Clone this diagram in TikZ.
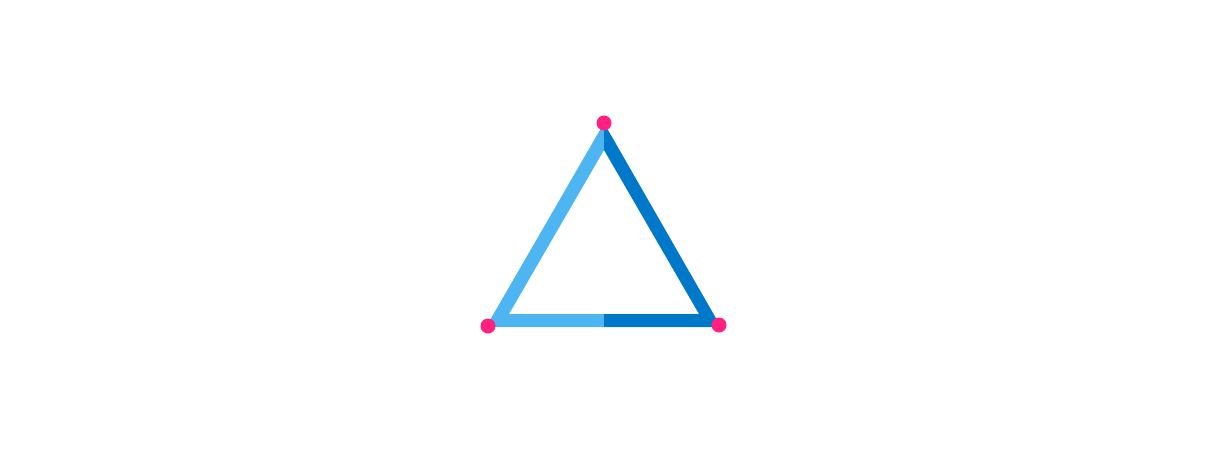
\documentclass[tikz,border=0pt]{standalone}
\begin{document}
\begin{tikzpicture}[x=0.02cm, y=-0.02cm,
  vertex/.style={circle, fill=dotpink, inner sep=0pt, minimum size=0.3cm}]
\definecolor{lightside}{HTML}{4DB5F2}
\definecolor{darkside}{HTML}{0078C9}
\definecolor{dotpink}{HTML}{FF2080}
\useasboundingbox (0,0) rectangle (1209,457);

% corners of the frame
\coordinate (top) at (604,123);
\coordinate (bl) at (486,327);
\coordinate (br) at (721,327);
\coordinate (itop) at (604,150);
\coordinate (ibl) at (509,314);
\coordinate (ibr) at (699,314);

% left half, light
\begin{scope}
  \clip (0,0) rectangle (604,457);
  \fill[lightside, even odd rule] (top) -- (bl) -- (br) -- cycle (itop) -- (ibl) -- (ibr) -- cycle;
\end{scope}
% right half, dark
\begin{scope}
  \clip (604,0) rectangle (1209,457);
  \fill[darkside, even odd rule] (top) -- (bl) -- (br) -- cycle (itop) -- (ibl) -- (ibr) -- cycle;
\end{scope}

% vertices
\node[vertex] (a) at (604,123) {};
\node[vertex] (b) at (488,326) {};
\node[vertex] (c) at (719,325) {};
\end{tikzpicture}
\end{document}
